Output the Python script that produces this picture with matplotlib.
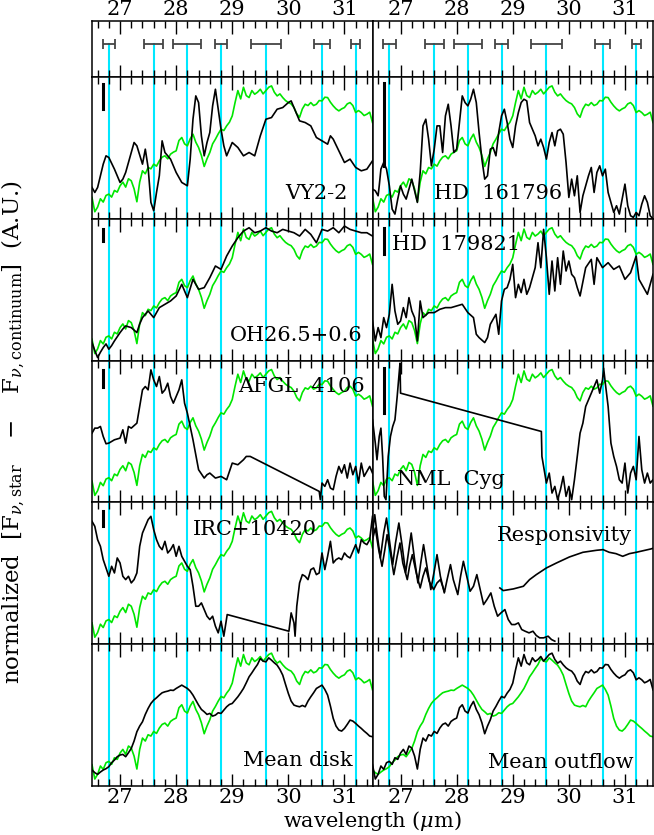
import numpy as np
import matplotlib
matplotlib.use('Agg')
import matplotlib.pyplot as plt
from matplotlib.ticker import MultipleLocator

plt.rcParams['font.family'] = ['DejaVu Serif']
plt.rcParams['mathtext.fontset'] = 'dejavuserif'

# feature positions (um) and their widths (half width, um)
feat_wl = [26.8, 27.6, 28.2, 28.8, 29.6, 30.6, 31.2]
feat_hw = [0.11, 0.17, 0.25, 0.11, 0.27, 0.14, 0.08]

# mean outflow spectrum (A.U.)
outflow_wl = np.round(np.arange(26.5, 31.501, 0.05), 2)
outflow_fl = [64, 21, 35, 60, 50, 70, 74, 65, 85, 80, 99, 110, 95, 120, 114, 90, 51, 110, 144, 135,
              154, 150, 164, 158, 174, 185, 189, 180, 194, 200, 204, 235, 244, 225, 219, 240, 254, 230, 214, 190,
              157, 180, 199, 225, 239, 255, 269, 265, 279, 290, 309, 349, 385, 360, 395, 370, 364, 385, 374, 380,
              389, 375, 385, 395, 399, 380, 369, 375, 364, 355, 349, 345, 334, 315, 305, 330, 344, 340, 349, 340,
              344, 355, 354, 365, 364, 350, 339, 330, 324, 330, 334, 345, 349, 340, 319, 325, 319, 310, 314, 320,
              289]

# mean disk spectrum (A.U.)
disk_wl = outflow_wl
disk_fl = [48, 40, 35, 42, 48, 52, 58, 70, 78, 88, 93, 95, 88, 100, 113, 135, 163, 180, 193, 215,
           233, 248, 258, 265, 273, 280, 283, 285, 288, 287, 293, 298, 303, 298, 293, 285, 273, 258, 243, 230,
           223, 215, 218, 210, 213, 220, 218, 228, 238, 245, 248, 258, 268, 280, 293, 310, 328, 340, 353, 365,
           383, 375, 373, 385, 378, 370, 363, 350, 333, 305, 278, 255, 243, 240, 238, 242, 238, 255, 268, 280,
           293, 298, 303, 290, 273, 240, 203, 180, 168, 165, 173, 185, 198, 195, 188, 180, 173, 165, 158, 150,
           148]

vy_wl = [26.5, 26.55, 26.6, 26.7, 26.75, 26.8, 26.9, 27.0, 27.05, 27.1, 27.2, 27.25, 27.3, 27.4, 27.45, 27.5,
         27.55, 27.6, 27.65, 27.7, 27.75, 27.8, 27.9, 28.0, 28.1, 28.2, 28.25, 28.3, 28.35, 28.4, 28.45, 28.5,
         28.55, 28.6, 28.65, 28.7, 28.75, 28.8, 28.85, 28.9, 29.0, 29.1, 29.2, 29.3, 29.4, 29.5, 29.6, 29.7,
         29.8, 29.9, 30.0, 30.05, 30.1, 30.2, 30.3, 30.4, 30.5, 30.6, 30.7, 30.75, 30.8, 30.9, 31.0, 31.1,
         31.2, 31.3, 31.4, 31.5]
vy_fl = [94, 79, 94, 164, 189, 184, 149, 109, 119, 139, 199, 229, 219, 164, 209, 154,
         49, 24, 79, 129, 234, 199, 179, 139, 109, 99, 179, 299, 369, 349, 249, 189,
         229, 259, 339, 389, 329, 269, 219, 189, 229, 214, 189, 199, 189, 249, 299, 304,
         329, 334, 349, 354, 334, 294, 289, 279, 244, 234, 224, 249, 239, 204, 169, 179,
         154, 144, 149, 174]

hd16_wl = [26.5, 26.55, 26.6, 26.62, 26.65, 26.7, 26.75, 26.8, 26.85, 26.9, 26.95, 27.0, 27.05, 27.1, 27.15,
           27.2, 27.25, 27.3, 27.35, 27.4, 27.45, 27.5, 27.55, 27.6, 27.65, 27.7, 27.75, 27.8, 27.85, 27.9,
           27.95, 28.0, 28.05, 28.1, 28.15, 28.2, 28.25, 28.3, 28.35, 28.4, 28.45, 28.5, 28.55, 28.6, 28.65,
           28.7, 28.75, 28.8, 28.85, 28.9, 28.95, 29.0, 29.05, 29.1, 29.15, 29.2, 29.25, 29.3, 29.35, 29.4,
           29.45, 29.5, 29.55, 29.6, 29.65, 29.7, 29.75, 29.8, 29.85, 29.9, 29.95, 30.0, 30.05, 30.1, 30.15,
           30.2, 30.25, 30.3, 30.35, 30.4, 30.45, 30.5, 30.55, 30.6, 30.65, 30.7, 30.75, 30.8, 30.85, 30.9,
           30.95, 31.0, 31.05, 31.1, 31.15, 31.2, 31.25, 31.3, 31.35, 31.4, 31.45, 31.5]
hd16_fl = [89, 84, 69, 99, 149, 169, 149, 99, 29, 14, 59, 99, 74, 59, 89,
           119, 84, 49, 139, 279, 299, 239, 159, 209, 279, 279, 199, 309, 344, 279,
           199, 209, 289, 369, 349, 339, 359, 389, 349, 259, 179, 119, 129, 209, 214,
           189, 259, 309, 329, 289, 239, 214, 279, 319, 349, 359, 354, 289, 269, 249,
           219, 239, 214, 179, 229, 259, 219, 264, 269, 254, 169, 64, 119, 69, 129,
           19, 69, 99, 129, 154, 79, 139, 159, 129, 149, 79, 49, 19, 39, 14,
           59, 104, 39, 9, 4, 19, 9, 44, 69, 49, 9, 0]

oh_wl = [26.5, 26.55, 26.6, 26.65, 26.7, 26.75, 26.8, 26.85, 26.9, 27.0, 27.05, 27.1, 27.2, 27.3, 27.35, 27.4,
         27.5, 27.6, 27.7, 27.8, 27.9, 28.0, 28.1, 28.2, 28.3, 28.4, 28.5, 28.6, 28.7, 28.8, 28.9, 29.0,
         29.1, 29.2, 29.3, 29.4, 29.5, 29.6, 29.7, 29.8, 29.9, 30.0, 30.1, 30.2, 30.3, 30.4, 30.5, 30.6,
         30.7, 30.8, 30.9, 31.0, 31.1, 31.2, 31.3, 31.4, 31.5]
oh_fl = [54, 30, 9, 25, 39, 50, 34, 45, 59, 84, 95, 104, 99, 84, 110, 129,
         149, 129, 159, 169, 179, 194, 229, 189, 244, 214, 219, 249, 284, 274, 314, 344,
         369, 389, 399, 384, 389, 399, 389, 384, 394, 389, 384, 374, 394, 379, 354, 394,
         389, 399, 384, 404, 394, 389, 384, 384, 374]

hd17_wl = [26.5, 26.55, 26.6, 26.65, 26.7, 26.75, 26.8, 26.85, 26.9, 26.95, 27.0, 27.05, 27.1, 27.15, 27.2,
           27.25, 27.3, 27.35, 27.4, 27.5, 27.6, 27.7, 27.8, 27.9, 28.0, 28.1, 28.2, 28.3, 28.35, 28.4, 28.5,
           28.55, 28.6, 28.7, 28.75, 28.8, 28.85, 28.9, 28.95, 29.0, 29.05, 29.1, 29.15, 29.2, 29.25, 29.3,
           29.4, 29.45, 29.5, 29.55, 29.6, 29.65, 29.7, 29.75, 29.8, 29.85, 29.9, 29.95, 30.0, 30.05, 30.1,
           30.15, 30.2, 30.3, 30.4, 30.45, 30.5, 30.6, 30.7, 30.8, 30.9, 31.0, 31.1, 31.2, 31.25, 31.3, 31.4,
           31.45, 31.5]
hd17_fl = [119, 59, 99, 69, 129, 99, 139, 229, 149, 109, 119, 159, 129, 189, 149,
           129, 59, 179, 129, 144, 144, 154, 159, 159, 164, 169, 144, 129, 79, 69, 54,
           69, 109, 139, 79, 179, 214, 219, 244, 289, 189, 229, 204, 244, 199, 219,
           279, 354, 279, 394, 309, 199, 299, 209, 309, 229, 329, 269, 299, 259, 249,
           219, 194, 279, 304, 229, 309, 279, 294, 274, 284, 244, 264, 314, 244, 229, 199,
           229, 259]

afgl_wl = [26.5, 26.55, 26.6, 26.65, 26.7, 26.75, 26.8, 26.9, 27.0, 27.05, 27.1, 27.15, 27.2, 27.3, 27.35,
           27.4, 27.45, 27.5, 27.55, 27.6, 27.65, 27.7, 27.75, 27.8, 27.85, 27.9, 27.95, 28.0, 28.05, 28.1,
           28.15, 28.2, 28.3, 28.4, 28.5, 28.55, 28.6, 28.7, 28.8, 28.9, 29.0, 29.1, 29.2, 29.25, 29.32,
           30.55, 30.57, 30.6, 30.65, 30.7, 30.75, 30.8, 30.85, 30.9, 30.95, 31.0, 31.05, 31.1, 31.15, 31.2,
           31.25, 31.3, 31.35, 31.4, 31.45, 31.5]
afgl_fl = [208, 223, 223, 228, 198, 176, 178, 188, 193, 218, 178, 228, 223, 238, 288,
           338, 348, 338, 398, 368, 348, 378, 328, 338, 358, 318, 298, 318, 338, 368,
           298, 268, 188, 98, 73, 83, 88, 73, 78, 68, 118, 113, 128, 138, 138,
           33, 8, 58, 48, 68, 43, 38, 78, 108, 88, 113, 73, 118, 83, 108,
           58, 118, 78, 93, 108, 88]

nml_wl = [26.5, 26.55, 26.58, 26.62, 26.65, 26.68, 26.71, 26.74, 26.78, 26.82, 26.86, 26.9, 26.94, 26.97,
          26.99, 27.0, 29.51, 29.52, 29.55, 29.6, 29.65, 29.7, 29.75, 29.8, 29.85, 29.9, 29.95, 30.0, 30.05,
          30.1, 30.15, 30.2, 30.25, 30.3, 30.35, 30.4, 30.45, 30.5, 30.55, 30.6, 30.62, 30.65, 30.7, 30.75,
          30.8, 30.85, 30.9, 30.95, 31.0, 31.05, 31.1, 31.15, 31.2, 31.25, 31.3, 31.35, 31.4, 31.45, 31.5]
nml_fl = [248, 178, 128, 198, 223, 138, 18, 8, 138, 198, 228, 248, 318, 378,
          418, 328, 213, 138, 108, 58, 88, 28, 48, 8, 38, 78, 18, 48, 8,
          68, 138, 208, 238, 288, 308, 328, 348, 368, 328, 368, 403, 358, 288, 178,
          138, 108, 68, 58, 118, 28, 88, 108, 68, 198, 98, 58, 88, 58, 68]

irc_wl = [26.5, 26.55, 26.6, 26.65, 26.7, 26.75, 26.8, 26.85, 26.9, 26.95, 27.0, 27.05, 27.1, 27.15, 27.2,
          27.25, 27.3, 27.35, 27.4, 27.45, 27.5, 27.55, 27.6, 27.65, 27.7, 27.75, 27.8, 27.85, 27.9, 27.95,
          28.0, 28.05, 28.1, 28.15, 28.2, 28.25, 28.3, 28.35, 28.4, 28.45, 28.5, 28.55, 28.6, 28.65, 28.7,
          28.75, 28.8, 28.85, 28.91, 30.01, 30.05, 30.1, 30.12, 30.15, 30.2, 30.25, 30.3, 30.35, 30.4, 30.45,
          30.5, 30.55, 30.6, 30.65, 30.7, 30.75, 30.8, 30.85, 30.9, 30.95, 31.0, 31.05, 31.1, 31.15, 31.2,
          31.25, 31.3, 31.35, 31.4, 31.45, 31.5]
irc_fl = [369, 354, 314, 294, 254, 229, 204, 234, 214, 259, 244, 204, 194, 204, 184,
          194, 214, 294, 334, 354, 374, 384, 344, 314, 294, 284, 309, 274, 284, 299,
          264, 294, 264, 249, 234, 224, 174, 114, 114, 124, 104, 84, 74, 84, 54,
          34, 69, 24, 89, 39, 94, 64, 24, 114, 184, 209, 204, 194, 224, 229,
          209, 214, 274, 224, 264, 309, 244, 254, 259, 254, 274, 264, 259, 279, 299,
          274, 314, 304, 299, 314, 384]

# detector fringes and responsivity
fringe_a_wl = [26.5, 26.54, 26.58, 26.64, 26.7, 26.75, 26.8, 26.86, 26.91, 26.97, 27.03, 27.09, 27.14, 27.19,
               27.25, 27.31, 27.36, 27.41, 27.48, 27.54, 27.6, 27.65, 27.71, 27.78, 27.83, 27.89, 27.94, 28.02,
               28.07, 28.12, 28.18, 28.24, 28.3, 28.36, 28.42, 28.48, 28.54, 28.61, 28.67, 28.73, 28.79, 28.86,
               28.92, 28.98, 29.04, 29.1, 29.16, 29.22, 29.29, 29.36, 29.42, 29.48, 29.55, 29.63, 29.69, 29.75]
fringe_a_fl = [334, 389, 334, 259, 334, 379, 314, 239, 304, 364, 294, 214, 274, 334,
               254, 184, 244, 299, 224, 164, 219, 269, 204, 154, 194, 239, 194, 149,
               204, 249, 204, 159, 174, 209, 164, 119, 134, 154, 114, 84, 94, 104,
               74, 59, 59, 64, 44, 39, 34, 39, 26, 19, 19, 24, 14, 9]
fringe_b_wl = [26.5, 26.55, 26.61, 26.67, 26.72, 26.76, 26.82, 26.88, 26.94, 26.99, 27.04, 27.12, 27.16, 27.21,
               27.28, 27.35, 27.4, 27.45, 27.51, 27.59, 27.65, 27.71, 27.78]
fringe_b_fl = [314, 349, 284, 234, 284, 329, 274, 209, 264, 304, 244, 194, 234, 269,
               214, 169, 204, 229, 189, 164, 184, 194, 159]
resp_wl = [28.77, 28.83, 29.01, 29.19, 29.3, 29.42, 29.6, 29.78, 30.01, 30.25, 30.49, 30.61, 30.72, 30.84,
           30.96, 31.08, 31.2, 31.46, 31.5]
resp_fl = [169, 161, 166, 174, 194, 209, 229, 244, 262, 276, 282, 284, 276, 272,
           264, 272, 276, 286, 288]

# panels: (name, wl, flux, label x, label y, scale bar (lo, hi))
panels = [
    [('VY2-2', vy_wl, vy_fl, 29.95, 75, (330, 405)),
     ('HD  161796', hd16_wl, hd16_fl, 27.59, 75, (159, 407))],
    [('OH26.5+0.6', oh_wl, oh_fl, 28.95, 75, (359, 394)),
     ('HD  179821', hd17_wl, hd17_fl, 26.84, 348, (321, 399))],
    [('AFGL  4106', afgl_wl, afgl_fl, 29.11, 348, (348, 398)),
     ('NML  Cyg', nml_wl, nml_fl, 26.93, 69, (268, 403))],
    [('IRC+10420', irc_wl, irc_fl, 28.30, 345, (354, 399)),
     ('Responsivity', None, None, 28.72, 327, None)],
]

cyan = '#00e8ff'
green = '#00e600'
lw = 1.2
fs = 15

fig = plt.figure(figsize=(6.54, 8.35), dpi=100)
gs = fig.add_gridspec(6, 2, height_ratios=[56, 142, 142, 142, 142, 142],
                      left=92 / 654, right=653 / 654, top=(835 - 21) / 835, bottom=(835 - 786) / 835,
                      hspace=0, wspace=0)


def style_axis(ax, top_labels=False, bottom_labels=False):
    ax.set_xlim(26.5, 31.5)
    ax.xaxis.set_major_locator(MultipleLocator(1))
    ax.xaxis.set_minor_locator(MultipleLocator(0.2))
    ax.tick_params(axis='x', which='both', direction='in', top=True, bottom=True,
                   labeltop=top_labels, labelbottom=bottom_labels, labelsize=fs, pad=1.5)
    ax.tick_params(axis='x', which='major', length=9, width=1)
    ax.tick_params(axis='x', which='minor', length=5, width=1)
    ax.set_yticks([])
    for s in ax.spines.values():
        s.set_linewidth(1.1)


for col in range(2):
    # feature widths panel
    ax = fig.add_subplot(gs[0, col])
    style_axis(ax, top_labels=True)
    ax.set_ylim(0, 1)
    for w, hw in zip(feat_wl, feat_hw):
        ax.plot([w, w], [0, 0.58], color=cyan, lw=1.5, zorder=1)
        ax.errorbar(w, 0.58, xerr=hw, color='#444444', lw=1.3, capsize=3.5, capthick=1.3, zorder=2)

    for row in range(1, 6):
        ax = fig.add_subplot(gs[row, col])
        style_axis(ax, bottom_labels=(row == 5))
        ax.set_ylim(0, 426)
        for w in feat_wl:
            ax.axvline(w, color=cyan, lw=1.5, zorder=1)
        if row == 5:
            if col == 0:
                ax.plot(disk_wl, outflow_fl, color=green, lw=lw, zorder=2)
                ax.plot(disk_wl, disk_fl, color='black', lw=lw, zorder=3)
                ax.text(29.2, 78, 'Mean disk', fontsize=fs, va='center')
            else:
                ax.plot(disk_wl, disk_fl, color=green, lw=lw, zorder=2)
                ax.plot(outflow_wl, outflow_fl, color='black', lw=lw, zorder=3)
                ax.text(28.55, 72, 'Mean outflow', fontsize=fs, va='center')
            continue
        name, wl, fl, tx, ty, bar = panels[row - 1][col]
        if wl is None:
            ax.plot(fringe_a_wl, fringe_a_fl, color='black', lw=lw, zorder=3)
            ax.plot(fringe_b_wl, fringe_b_fl, color='black', lw=lw, zorder=3)
            ax.plot(resp_wl, resp_fl, color='black', lw=lw, zorder=3)
        else:
            ax.plot(outflow_wl, outflow_fl, color=green, lw=lw, zorder=2)
            ax.plot(wl, fl, color='black', lw=lw, zorder=3)
        if bar is not None:
            ax.plot([26.7, 26.7], bar, color='black', lw=2.2, zorder=4)
        ax.text(tx, ty, name, fontsize=fs, va='center', zorder=5)

fig.text(0.5687, 0.017, r'wavelength ($\mu$m)', fontsize=fs, ha='center', va='center')
fig.text(0.020, 0.483,
         r'normalized  $\left[\mathrm{F}_{\nu,\mathrm{star}}\quad-\quad\mathrm{F}_{\nu,\mathrm{continuum}}\right]$  (A.U.)',
         fontsize=16.5, rotation=90, ha='center', va='center')

fig.savefig('out.png', dpi=100)
